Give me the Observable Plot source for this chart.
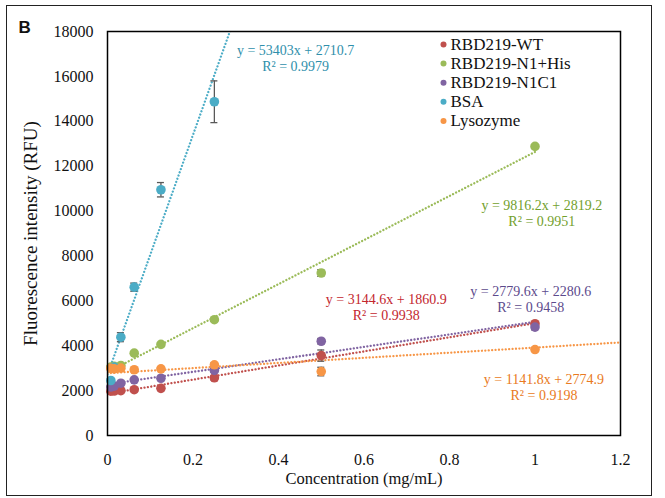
<!DOCTYPE html>
<html><head><meta charset="utf-8">
<script src="https://cdn.jsdelivr.net/npm/d3@7"></script>
<script src="https://cdn.jsdelivr.net/npm/@observablehq/plot@0.6"></script>
<style>
html,body{margin:0;padding:0;background:#fff;}
#wrap{position:relative;width:665px;height:498px;overflow:hidden;}
#border{position:absolute;left:6px;top:5px;width:646px;height:491px;box-sizing:border-box;border:1.5px solid #222;pointer-events:none;}
</style></head><body><div id="wrap"><div id="chart"></div><div id="border"></div></div>
<script>
const series = ["RBD219-WT", "RBD219-N1+His", "RBD219-N1C1", "BSA", "Lysozyme"];
const colors = ["#c0504d", "#9bbb59", "#8064a2", "#4bacc6", "#f79646"];
const textColors = ["#c3262e", "#72a02c", "#5c4a8c", "#2f8fab", "#e97a22"];
const concentration = [0.0078, 0.0156, 0.03125, 0.0625, 0.125, 0.25, 0.5, 1];
const wtValues = [1975, 1980, 2000, 2040, 2100, 2570, 3560, 4980];
const n1HisValues = [3050, 3080, 3120, 3670, 4060, 5160, 7240, 12880];
const n1c1Values = [2160, 2200, 2330, 2480, 2550, 2900, 4200, 4830];
const bsaValues = [2450, 3050, 4380, 6610, 10950, 14870, null, null];
const lysozymeValues = [2990, 2970, 3000, 2930, 2970, 3150, 2850, 3830];
const wtErrors = [60, 40, 40, 40, 60, 100, 250, 80];
const n1HisErrors = [60, 40, 40, 40, 40, 60, 150, 60];
const n1c1Errors = [40, 40, 40, 60, 60, 80, 120, 120];
const bsaErrors = [60, 80, 200, 180, 320, 930, null, null];
const lysozymeErrors = [40, 40, 40, 40, 60, 80, 190, 60];
const slopes = [3144.6, 9816.2, 2779.6, 53403, 1141.8];
const intercepts = [1860.9, 2819.2, 2280.6, 2710.7, 2774.9];
const rSquared = ["0.9938", "0.9951", "0.9458", "0.9979", "0.9198"];
const trendStart = [0, 0, 0, 0, 0];
const trendEnd = [1, 1, 1, 0.3, 1.2];
const labelX = [0.652, 1.016, 0.99, 0.44, 1.021];
const labelY = [5712, 9914, 6090, 16820, 2170];
const xTicks = [0, 0.2, 0.4, 0.6, 0.8, 1, 1.2];
const yTicks = [0, 2000, 4000, 6000, 8000, 10000, 12000, 14000, 16000, 18000];

const serifFont = '"Liberation Serif", "Times New Roman", Times, serif';
const allValues = [wtValues, n1HisValues, n1c1Values, bsaValues, lysozymeValues];
const allErrors = [wtErrors, n1HisErrors, n1c1Errors, bsaErrors, lysozymeErrors];

const points = [];
series.forEach((s, i) => {
  concentration.forEach((c, j) => {
    const v = allValues[i][j];
    if (v == null) return;
    const e = allErrors[i][j] || 0;
    points.push({series: s, x: c, y: v, lo: v - e, hi: v + e, color: colors[i]});
  });
});
const trendRows = [];
series.forEach((s, i) => {
  [trendStart[i], trendEnd[i]].forEach(x => trendRows.push({series: s, x, y: slopes[i] * x + intercepts[i], color: colors[i]}));
});
const labels = series.map((s, i) => ({
  x: labelX[i], y: labelY[i], color: textColors[i],
  text: `y = ${slopes[i]}x + ${intercepts[i]}\nR² = ${rSquared[i]}`
}));

// legend rows (drawn in the SVG, offset from the frame's top-left corner)
const legendMarks = series.flatMap((s, i) => [
  Plot.dot([s], {frameAnchor: "top-left", dx: 336, dy: 13 + 19.1 * i, r: 3, fill: colors[i], stroke: "none"}),
  Plot.text([s], {frameAnchor: "top-left", dx: 343, dy: 13 + 19.1 * i, text: d => d, textAnchor: "start", lineAnchor: "middle", fontSize: 17, fontFamily: serifFont, fill: "#111"})
]);

const plot = Plot.plot({
  width: 665, height: 498,
  marginLeft: 107, marginRight: 45, marginTop: 31, marginBottom: 63,
  style: {background: "transparent"},
  x: {domain: [0, 1.2], axis: null},
  y: {domain: [0, 18000], axis: null},
  marks: [
    Plot.line(trendRows, {x: "x", y: "y", z: "series", stroke: d => d.color, strokeWidth: 2.3, strokeDasharray: "0.01 3.4", strokeLinecap: "round", clip: true}),
    Plot.ruleX(points, {x: "x", y1: "lo", y2: "hi", stroke: "#595959", strokeWidth: 1.3}),
    Plot.ruleY(points, {y: "lo", x1: "x", x2: "x", insetLeft: -3.5, insetRight: -3.5, stroke: "#595959", strokeWidth: 1.3}),
    Plot.ruleY(points, {y: "hi", x1: "x", x2: "x", insetLeft: -3.5, insetRight: -3.5, stroke: "#595959", strokeWidth: 1.3}),
    Plot.dot(points, {x: "x", y: "y", r: 4.8, fill: d => d.color, stroke: "none"}),
    Plot.text(labels, {x: "x", y: "y", text: "text", fill: d => d.color, fontSize: 14, lineHeight: 1.15, fontFamily: serifFont}),
    Plot.frame({stroke: "#000", strokeWidth: 1.5}),
    // tick labels through the scales
    Plot.text(xTicks, {x: d => d, frameAnchor: "bottom", dy: 24, text: d => String(d), textAnchor: "middle", lineAnchor: "middle", fontSize: 16, fontFamily: serifFont, fill: "#111"}),
    Plot.text(yTicks, {y: d => d, frameAnchor: "left", dx: -14, text: d => String(d), textAnchor: "end", lineAnchor: "middle", fontSize: 16, fontFamily: serifFont, fill: "#111"}),
    Plot.text(["Concentration (mg/mL)"], {frameAnchor: "bottom", dy: 43, textAnchor: "middle", lineAnchor: "middle", fontSize: 16.5, fontFamily: serifFont, fill: "#111"}),
    Plot.text(["Fluorescence intensity (RFU)"], {frameAnchor: "left", dx: -77, rotate: -90, textAnchor: "middle", lineAnchor: "middle", fontSize: 19, fontFamily: serifFont, fill: "#111"}),
    Plot.text(["B"], {frameAnchor: "top-left", dx: -89, dy: -4, textAnchor: "start", lineAnchor: "middle", fontFamily: '"Liberation Sans", Arial, sans-serif', fontWeight: "bold", fontSize: 17, fill: "#111"}),
    ...legendMarks
  ]
});
document.getElementById("chart").appendChild(plot);
</script>
</body></html>
